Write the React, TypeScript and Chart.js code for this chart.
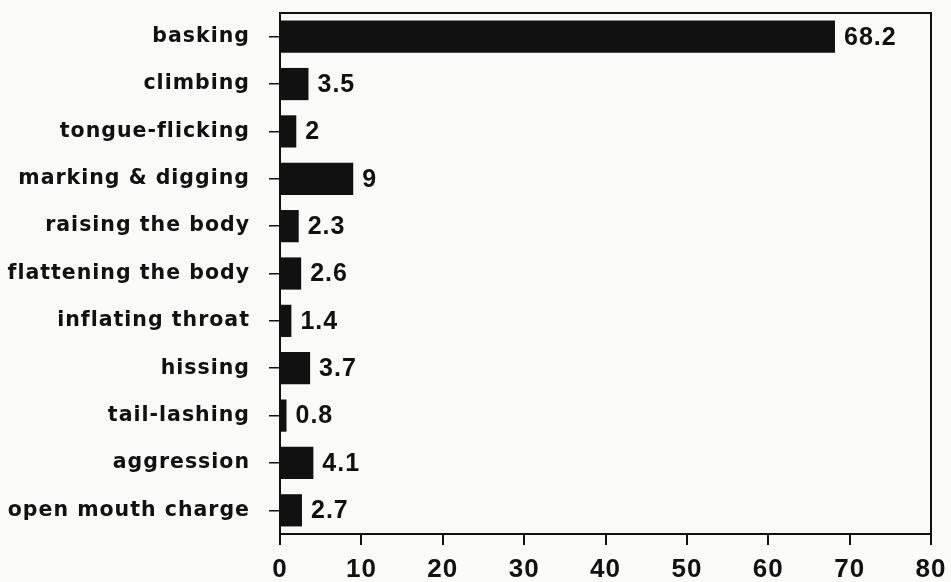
import React, { useEffect, useRef } from "react";
import { Chart, registerables } from "chart.js";

Chart.register(...registerables);

const categories = [
  "basking",
  "climbing",
  "tongue-flicking",
  "marking & digging",
  "raising the body",
  "flattening the body",
  "inflating throat",
  "hissing",
  "tail-lashing",
  "aggression",
  "open mouth charge",
];
const values = [68.2, 3.5, 2, 9, 2.3, 2.6, 1.4, 3.7, 0.8, 4.1, 2.7];
const valueLabels = ["68.2", "3.5", "2", "9", "2.3", "2.6", "1.4", "3.7", "0.8", "4.1", "2.7"];
const xTicks = [0, 10, 20, 30, 40, 50, 60, 70, 80];

const LABEL_FONT = "'DejaVu Sans', sans-serif";
const NUM_FONT = "'Liberation Sans', Arial, sans-serif";
const SPACING = "1px";

const spacingPlugin = {
  id: "spacing",
  afterInit(chart: any) {
    chart.ctx.letterSpacing = SPACING;
  },
  beforeUpdate(chart: any) {
    chart.ctx.letterSpacing = SPACING;
  },
  beforeDraw(chart: any) {
    chart.ctx.letterSpacing = SPACING;
  },
};

const boxPlugin = {
  id: "box",
  beforeDraw(chart: any) {
    const { ctx, width, height } = chart;
    ctx.save();
    ctx.fillStyle = "#fafaf9";
    ctx.fillRect(0, 0, width, height);
    ctx.restore();
  },
  afterDraw(chart: any) {
    const { ctx, chartArea } = chart;
    ctx.save();
    ctx.strokeStyle = "#111";
    ctx.lineWidth = 2;
    ctx.strokeRect(chartArea.left, chartArea.top, chartArea.right - chartArea.left, chartArea.bottom - chartArea.top);
    ctx.restore();
  },
};

const labelPlugin = {
  id: "valueLabels",
  afterDatasetsDraw(chart: any) {
    const { ctx } = chart;
    const meta = chart.getDatasetMeta(0);
    ctx.save();
    ctx.font = `bold 25px ${NUM_FONT}`;
    ctx.fillStyle = "#111";
    ctx.textBaseline = "middle";
    ctx.textAlign = "left";
    meta.data.forEach((el: any, i: number) => {
      ctx.fillText(valueLabels[i], el.x + 9, el.y + 1);
    });
    ctx.restore();
  },
};

export default function App() {
  const ref = useRef<HTMLCanvasElement | null>(null);
  useEffect(() => {
    if (!ref.current) return;
    const chart = new Chart(ref.current, {
      type: "bar",
      data: {
        labels: categories,
        datasets: [
          {
            data: values,
            backgroundColor: "#111",
            borderWidth: 0,
            barPercentage: 0.68,
            categoryPercentage: 1,
          },
        ],
      },
      plugins: [spacingPlugin, boxPlugin, labelPlugin],
      options: {
        indexAxis: "y",
        animation: false,
        responsive: false,
        maintainAspectRatio: false,
        layout: { padding: { top: 13, right: 20, bottom: 0, left: 0 } },
        plugins: { legend: { display: false }, tooltip: { enabled: false } },
        scales: {
          x: {
            min: 0,
            max: 80,
            afterBuildTicks(scale: any) {
              scale.ticks = xTicks.map((v) => ({ value: v }));
            },
            afterFit(scale: any) {
              scale.height = 48;
              scale.paddingLeft = 0;
              scale.paddingRight = 0;
            },
            grid: {
              drawOnChartArea: false,
              drawTicks: true,
              tickLength: 11,
              color: "#111",
              lineWidth: 2,
            },
            border: { display: true, color: "#111", width: 2 },
            ticks: {
              color: "#111",
              font: { family: NUM_FONT, size: 26, weight: "bold" },
              padding: 9,
              maxRotation: 0,
            },
          },
          y: {
            afterFit(scale: any) {
              scale.width = 280;
              scale.paddingTop = 0;
              scale.paddingBottom = 0;
            },
            grid: {
              offset: false,
              drawOnChartArea: false,
              drawTicks: true,
              tickLength: 11,
              color: "#111",
              lineWidth: 1.5,
            },
            border: { display: true, color: "#111", width: 2 },
            ticks: {
              color: "#111",
              font: { family: LABEL_FONT, size: 20.5, weight: "bold" },
              padding: 19,
            },
          },
        },
      },
    });
    return () => chart.destroy();
  }, []);
  return (
    <div style={{ position: "absolute", left: 0, top: 0, width: 951, height: 582 }}>
      <canvas ref={ref} width={951} height={582} style={{ display: "block" }} />
    </div>
  );
}
